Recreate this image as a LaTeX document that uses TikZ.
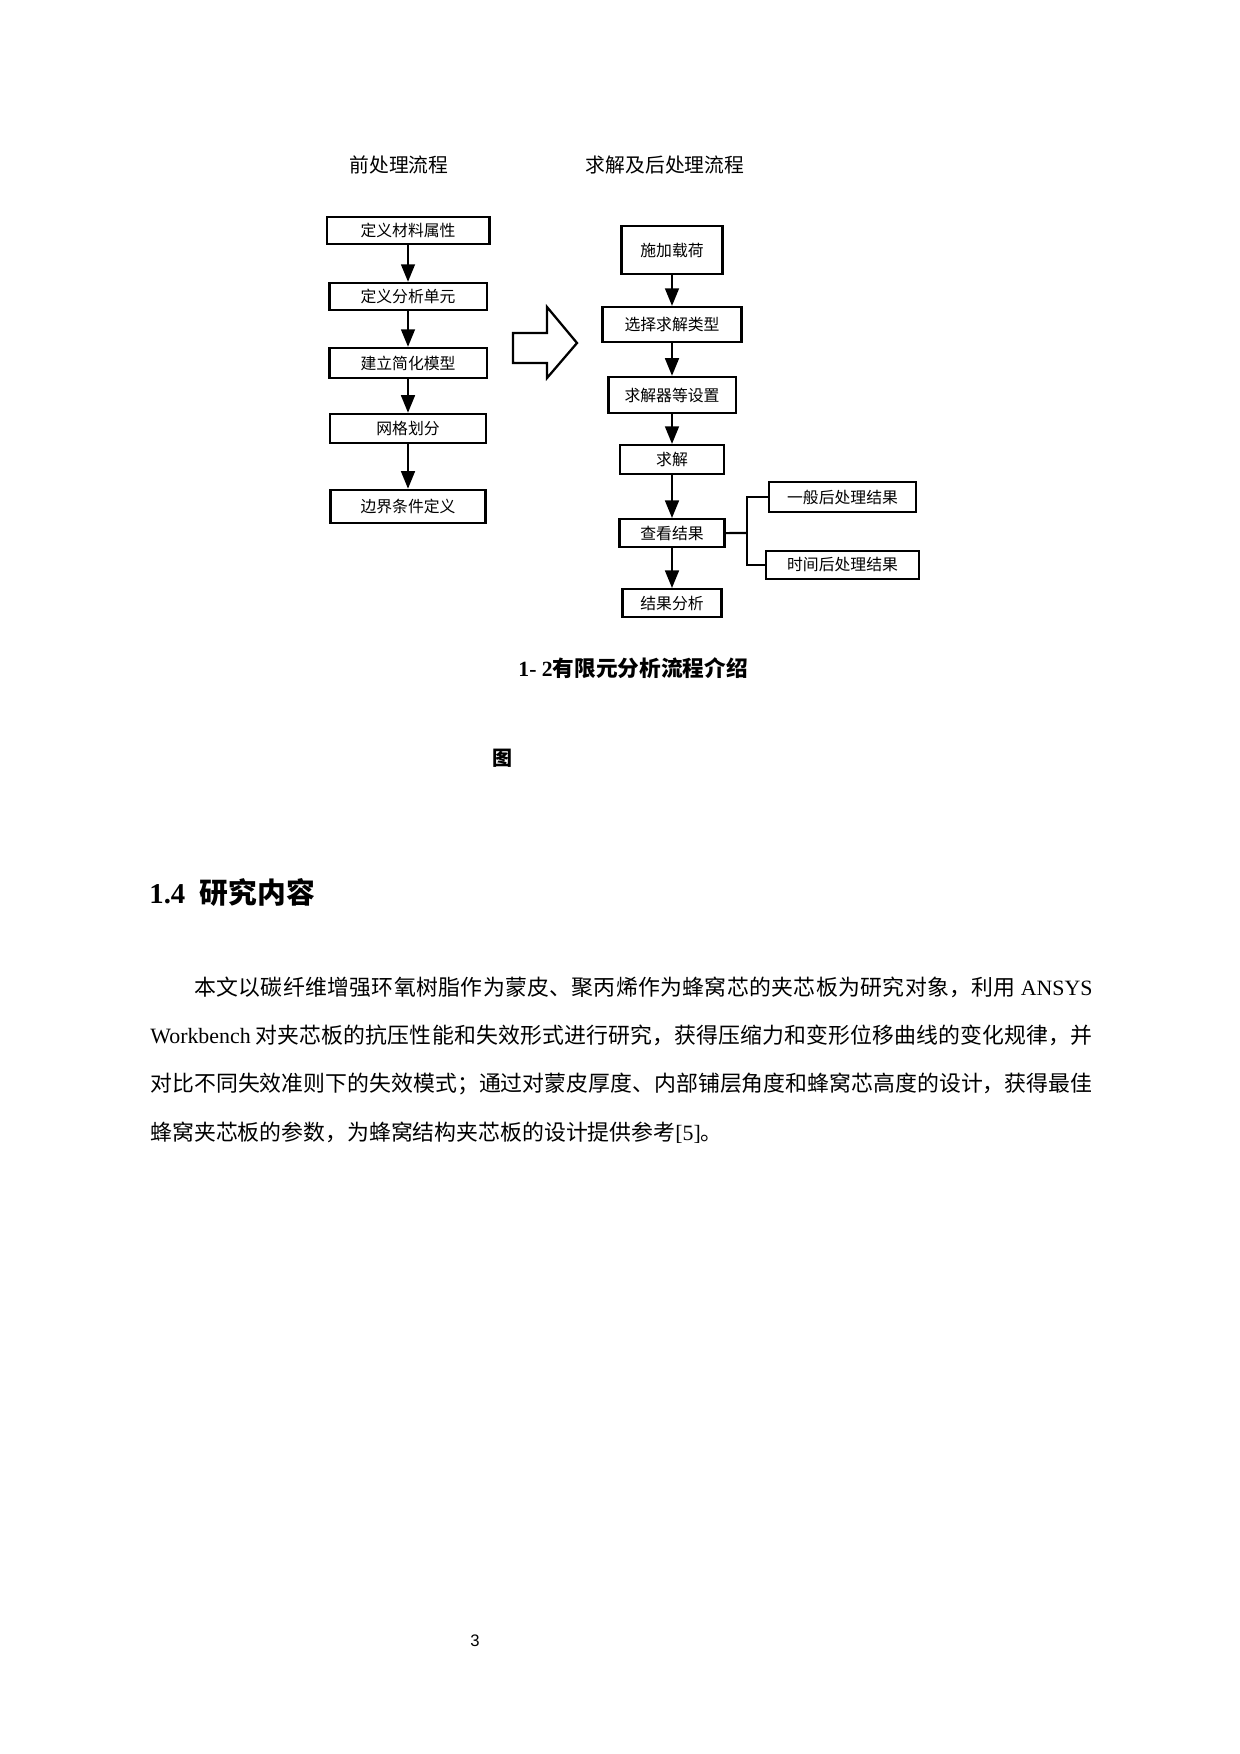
\documentclass[tikz,border=0pt]{standalone}
\usepackage{fontspec}
\setmainfont{Liberation Serif}
\newfontfamily\cjk{Noto Sans CJK SC}
\newfontfamily\pagefont{Liberation Sans}
\usetikzlibrary{arrows.meta}
\newcommand{\lat}[1]{{\rmfamily #1}}
\XeTeXlinebreaklocale "zh"
\XeTeXlinebreakskip=0pt plus 1pt

\begin{document}
\begin{tikzpicture}[x=0.48pt,y=-0.48pt,auto]

\tikzstyle{box}=[draw,line width=1pt,inner sep=0pt,font=\cjk\fontsize{7.6}{9}\selectfont]
\tikzstyle{edge}=[-{Triangle[width=6.5pt,length=8.5pt]},line width=1.4pt]
\tikzstyle{link}=[line width=1pt]
\tikzstyle{title}=[font=\cjk\fontsize{9.5}{11}\selectfont]

\useasboundingbox (0,0) rectangle (1240,1754);

\node[title](preT) at (399,165){前处理流程};
\node[title](solT) at (665,165){求解及后处理流程};

\node[box,minimum width=78.2pt,minimum height=13pt](L1) at (408,230.5){定义材料属性};
\node[box,minimum width=75.4pt,minimum height=13pt](L2)[below of=L1,node distance=31.7pt]{定义分析单元};
\node[box,minimum width=75.4pt,minimum height=14.4pt](L3)[below of=L2,node distance=31.9pt]{建立简化模型};
\node[box,minimum width=74.9pt,minimum height=13.9pt](L4)[below of=L3,node distance=31.4pt]{网格划分};
\node[box,minimum width=74.4pt,minimum height=15.8pt](L5)[below of=L4,node distance=37.4pt]{边界条件定义};

\node[box,minimum width=48.5pt,minimum height=23pt](R1) at (672,250){施加载荷};
\node[box,minimum width=66.7pt,minimum height=16.8pt](R2)[below of=R1,node distance=35.8pt]{选择求解类型};
\node[box,minimum width=61pt,minimum height=17.3pt](R3)[below of=R2,node distance=33.8pt]{求解器等设置};
\node[box,minimum width=49.9pt,minimum height=13.9pt](R4)[below of=R3,node distance=31pt]{求解};
\node[box,minimum width=50.4pt,minimum height=13.4pt](R5)[below of=R4,node distance=35.3pt]{查看结果};
\node[box,minimum width=47.5pt,minimum height=13.4pt](R6)[below of=R5,node distance=33.6pt]{结果分析};

\node[box,minimum width=70.6pt,minimum height=14.4pt](G) at (842.5,497){一般后处理结果};
\node[box,minimum width=73.4pt,minimum height=13.4pt](H)[below of=G,node distance=32.6pt]{时间后处理结果};

\path[edge](L1)edge(L2)
	(L2)edge(L3)
	(L3)edge(L4)
	(L4)edge(L5)
	(R1)edge(R2)
	(R2)edge(R3)
	(R3)edge(R4)
	(R4)edge(R5)
	(R5)edge(R6);

\coordinate(J) at (747,533);
\draw[link](R5)--(J);
\draw[link](G.west)-|(J)|-(H.west);

\draw[line width=1.1pt,line join=miter](513,333)--(547,333)--(547,307)--(577,343)--(547,378)--(547,363)--(513,363)--cycle;

\node[font=\cjk\bfseries\fontsize{10.4}{12}\selectfont,anchor=west,inner sep=0pt](cap) at (518,668){\lat{1- 2}有限元分析流程介绍};
\node[font=\cjk\bfseries\fontsize{9.6}{11}\selectfont](fig) at (502,758){图};

\node[font=\cjk\bfseries\fontsize{13.8}{16}\selectfont,anchor=west,inner sep=0pt](head) at (149,892){\lat{1.4}\hspace{7pt}研究内容};

\node[anchor=base west,text width=452.2pt,align=justify,inner sep=0pt,font=\cjk\fontsize{10.5}{23.2}\selectfont](para) at (150,995){\hspace*{2em}本文以碳纤维增强环氧树脂作为蒙皮、聚丙烯作为蜂窝芯的夹芯板为研究对象，利用 \lat{ANSYS}\linebreak
\lat{Workbench} 对夹芯板的抗压性能和失效形式进行研究，获得压缩力和变形位移曲线的变化规律，并\linebreak
对比不同失效准则下的失效模式；通过对蒙皮厚度、内部铺层角度和蜂窝芯高度的设计，获得最佳\linebreak
蜂窝夹芯板的参数，为蜂窝结构夹芯板的设计提供参考\lat{[5]}。};

\node[font=\pagefont\fontsize{8}{10}\selectfont](pg) at (475,1641){3};

\end{tikzpicture}
\end{document}
